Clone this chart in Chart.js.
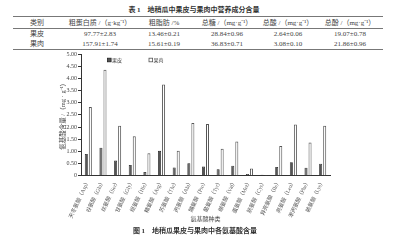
<!DOCTYPE html>
<html>
<head>
<meta charset="utf-8">
<script src="https://cdn.jsdelivr.net/npm/chart.js@4.4.0/dist/chart.umd.min.js"></script>
<style>
  html, body { margin: 0; padding: 0; background: #fff; }
  body { width: 396px; height: 240px; position: relative; overflow: hidden;
         font-family: 'Liberation Serif', 'Noto Sans CJK SC', serif; color: #444; }
  .t { position: absolute; white-space: nowrap; transform: translate(-50%, -50%); font-size: 7px; line-height: 1; }
  .rule { position: absolute; left: 13px; width: 370px; background: #777; }
  #wrap { position: absolute; left: 0; top: 48px; width: 396px; height: 192px; }
</style>
</head>
<body>
<div id="table"></div>
<div id="wrap"><canvas id="c"></canvas></div>
<div class="t" style="left:195px;top:231px;font-weight:bold;color:#333;" id="caption"></div>
<script>
// ---- table data ----
const tableTitle = '表 1　地稍瓜中果皮与果肉中营养成分含量';
const tableHeaders = ['类别', '粗蛋白质 /（g·kg⁻¹）', '粗脂肪 /%', '总糖 /（mg·g⁻¹）', '总酸 /（mg·g⁻¹）', '总酚 /（mg·g⁻¹）'];
const peelRow = ['果皮', '97.77±2.83', '13.46±0.21', '28.84±0.96', '2.64±0.06', '19.07±0.78'];
const fleshRow = ['果肉', '157.91±1.74', '15.61±0.19', '36.83±0.71', '3.08±0.10', '21.86±0.96'];

// ---- chart data ----
const categories = ['天冬氨酸（Asp）', '谷氨酸（Glu）', '丝氨酸（Ser）', '甘氨酸（Gly）', '组氨酸（His）',
  '精氨酸（Arg）', '苏氨酸（Thr）', '丙氨酸（Ala）', '脯氨酸（Pro）', '酪氨酸（Tyr）', '缬氨酸（Val）',
  '蛋氨酸（Met）', '胱氨酸（Cys）', '异亮氨酸（Ile）', '亮氨酸（Leu）', '苯丙氨酸（Phe）', '赖氨酸（Lys）'];
const peelValues = [0.89, 1.15, 0.62, 0.44, 0.15, 1.02, 0.34, 0.51, 0.38, 0.27, 0.41, 0.07, 0.04, 0.36, 0.55, 0.33, 0.49];
const fleshValues = [2.82, 4.35, 2.05, 1.62, 0.92, 3.75, 1.02, 2.17, 2.12, 1.11, 1.41, 0.30, 0.03, 1.22, 2.10, 1.36, 2.05];
const seriesNames = ['果皮', '果肉'];
const yAxisTitle = '氨基酸含量 /（mg · g⁻¹）';
const xAxisTitle = '氨基酸种类';
const figureCaption = '图 1　地稍瓜果皮与果肉中各氨基酸含量';

// ---- build table ----
(function () {
  const T = document.getElementById('table');
  const colX = [37, 100, 164, 227, 288, 350];
  const add = (txt, x, y, extra) => {
    const d = document.createElement('div');
    d.className = 't'; d.textContent = txt;
    d.style.left = x + 'px'; d.style.top = y + 'px';
    if (extra) Object.assign(d.style, extra);
    T.appendChild(d);
  };
  add(tableTitle, 194, 9.5, { fontWeight: 'bold', color: '#333' });
  tableHeaders.forEach((h, i) => add(h, colX[i], 22.5));
  peelRow.forEach((h, i) => add(h, colX[i], 34));
  fleshRow.forEach((h, i) => add(h, colX[i], 43.5));
  [[15.5, 1], [28, 0.6], [48.8, 1]].forEach(([y, h]) => {
    const r = document.createElement('div');
    r.className = 'rule'; r.style.top = y + 'px'; r.style.height = h + 'px';
    T.appendChild(r);
  });
  document.getElementById('caption').textContent = figureCaption;
})();

// ---- chart ----
const FONT = "'Liberation Serif', 'Noto Sans CJK SC', serif";

const legendPlugin = {
  id: 'manualLegend',
  afterDraw(chart) {
    const { ctx, chartArea } = chart;
    const offs = [26.5, 68];
    ctx.save();
    ctx.font = '5px ' + FONT;
    ctx.textBaseline = 'middle';
    chart.data.datasets.forEach((ds, i) => {
      const x = chartArea.left + offs[i];
      const y = chartArea.top + 6;
      ctx.fillStyle = ds.backgroundColor;
      ctx.strokeStyle = ds.borderColor;
      ctx.lineWidth = 0.8;
      ctx.fillRect(x, y - 1.8, 3.6, 3.6);
      ctx.strokeRect(x, y - 1.8, 3.6, 3.6);
      ctx.fillStyle = '#444';
      ctx.fillText(ds.label, x + 4.6, y + 0.3);
    });
    ctx.restore();
  }
};

new Chart(document.getElementById('c'), {
  type: 'bar',
  data: {
    labels: categories,
    datasets: [
      { label: seriesNames[0], data: peelValues, backgroundColor: '#555', borderColor: '#222',
        borderWidth: 0.8, barPercentage: 0.75, categoryPercentage: 0.55 },
      { label: seriesNames[1], data: fleshValues, backgroundColor: '#fff', borderColor: '#555',
        borderWidth: 1, barPercentage: 0.75, categoryPercentage: 0.55 }
    ]
  },
  plugins: [legendPlugin],
  options: {
    responsive: true,
    maintainAspectRatio: false,
    animation: false,
    layout: { padding: { top: 6, right: 66, left: 0, bottom: 0 } },
    plugins: { legend: { display: false }, tooltip: { enabled: false } },
    scales: {
      x: {
        grid: { display: false, drawTicks: false },
        border: { display: true, color: '#333', width: 1 },
        ticks: { autoSkip: false, minRotation: 65, maxRotation: 65, padding: 3,
                 color: '#555', font: { size: 5.5, family: FONT } },
        title: { display: true, text: xAxisTitle, color: '#444',
                 font: { size: 6, family: FONT }, padding: { top: 0, bottom: 17 } },
        afterFit(scale) { scale.height = 64.3; }
      },
      y: {
        min: 0, max: 5,
        grid: { display: true, drawOnChartArea: false, drawTicks: true, tickLength: 3, color: '#333' },
        border: { display: true, color: '#333', width: 1 },
        ticks: { stepSize: 0.5, padding: 1, color: '#444', font: { size: 6, family: FONT },
                 callback: v => (v === 0 ? '0' : Number(v).toFixed(2)) },
        title: { display: true, text: yAxisTitle, color: '#444',
                 font: { size: 6.5, family: FONT }, padding: { top: 59, bottom: 0 } },
        afterFit(scale) { scale.width = 81; }
      }
    }
  }
});
</script>
</body>
</html>
